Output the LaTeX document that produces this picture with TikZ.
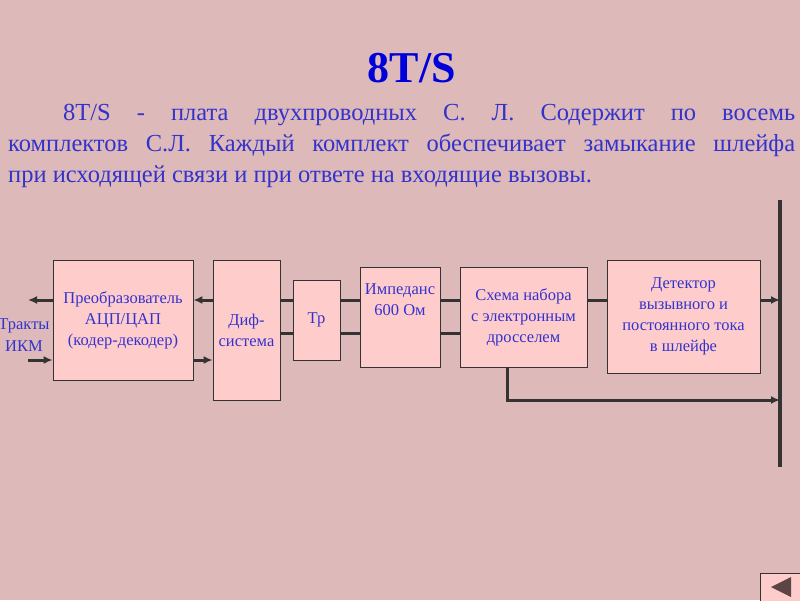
\documentclass[tikz,border=0pt]{standalone}
\usepackage{fontspec}
\setmainfont{Liberation Serif}
\usetikzlibrary{arrows.meta}
\definecolor{bg}{HTML}{DDB9B9}
\definecolor{boxf}{HTML}{FFCCCC}
\definecolor{btxt}{HTML}{3333CC}
\definecolor{ln}{HTML}{333333}
\begin{document}
\begin{tikzpicture}[x=1pt,y=-1pt,
  blk/.style={draw=ln,fill=boxf,line width=0.8pt,text=btxt,align=center,font=\fontsize{16.5}{21}\selectfont,inner sep=0pt},
  wire/.style={draw=ln,line width=3pt},
  arr/.style={wire,-{Latex[length=9pt,width=8pt]}}]
\fill[bg] (0,0) rectangle (800,600);
\useasboundingbox (0,0) rectangle (800,600);
\node[text=blue!85!black,font=\bfseries\fontsize{44}{48}\selectfont] (title) at (412,68) {8T/S};
\node[anchor=north west,text width=787pt,align=justify,inner sep=0pt,font=\fontsize{24.5}{31}\selectfont,text=btxt] (par) at (8,104)
 {\hspace*{55pt}8T/S - плата двухпроводных С. Л. Содержит по восемь\linebreak комплектов С.Л. Каждый комплект обеспечивает замыкание шлейфа\linebreak при исходящей связи и при ответе на входящие вызовы.};
\node[blk,minimum width=140pt,minimum height=120pt] (adc) at (123,320) {Преобразователь\\АЦП/ЦАП\\(кодер-декодер)};
\node[blk,minimum width=67pt,minimum height=140pt] (dif) at (246.5,330) {Диф-\\система};
\node[blk,minimum width=47pt,minimum height=80pt] (tr) at (316.5,320) {Тр};
\node[blk,minimum width=80pt,minimum height=100pt] (imp) at (400,317) {Импеданс\\600 Ом\\[14pt]};
\node[blk,minimum width=127pt,minimum height=100pt] (sch) at (523.5,317) {Схема набора\\с электронным\\дросселем};
\node[blk,minimum width=153pt,minimum height=113pt] (det) at (683.5,316.5) {Детектор\\вызывного и\\ постоянного тока\\в шлейфе};
\node[text=btxt,font=\fontsize{16.5}{22}\selectfont,align=center,inner sep=0pt] (ikm) at (24,335) {Тракты\\ИКМ};
\coordinate (bt) at (780,200); \coordinate (bb) at (780,467);
\draw[draw=ln,line width=3.5pt] (bt) -- (bb);
\coordinate (l1) at (28,300); \coordinate (l2) at (28,360);
\draw[arr] (adc.west|-l1) -- (l1);
\draw[arr] (l2) -- (adc.west|-l2);
\draw[arr] (dif.west|-l1) -- (adc.east|-l1);
\draw[arr] (adc.east|-l2) -- (dif.west|-l2);
\coordinate (m1) at (0,300); \coordinate (m2) at (0,333);
\draw[wire] (dif.east|-m1) -- (tr.west|-m1);
\draw[wire] (dif.east|-m2) -- (tr.west|-m2);
\draw[wire] (tr.east|-m1) -- (imp.west|-m1);
\draw[wire] (tr.east|-m2) -- (imp.west|-m2);
\draw[wire] (imp.east|-m1) -- (sch.west|-m1);
\draw[wire] (imp.east|-m2) -- (sch.west|-m2);
\draw[wire] (sch.east|-m1) -- (det.west|-m1);
\draw[arr] (det.east|-m1) -- (bt|-m1);
\coordinate (k) at (507,400);
\draw[arr] (sch.south-|k) -- (k) -- (bt|-k);
\node[draw=ln,fill=boxf,line width=0.8pt,minimum width=40pt,minimum height=28pt,inner sep=0pt] (btn) at (780,587) {};
\fill[gray!60!black!90!red] (771,587) -- (791,577) -- (791,597) -- cycle;
\end{tikzpicture}
\end{document}
